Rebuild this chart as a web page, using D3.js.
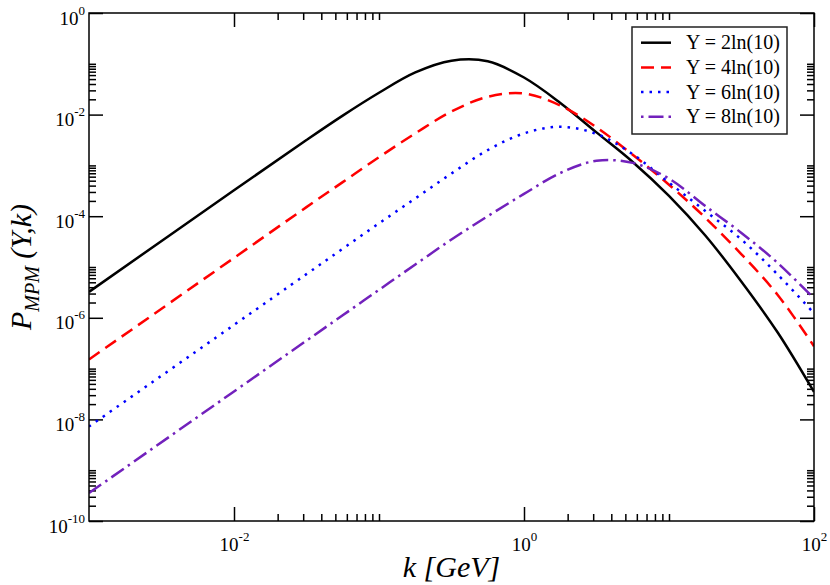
<!DOCTYPE html>
<html>
<head>
<meta charset="utf-8">
<script src="https://cdn.jsdelivr.net/npm/d3@7"></script>
<style>
  body { margin: 0; background: #fff; }
  text { font-family: "Liberation Serif", "Times New Roman", Times, serif; fill: #000; }
</style>
</head>
<body>
<svg id="chart" width="830" height="585"></svg>
<script>
// k grid (GeV), values every quarter / half decade
var kVals = [1e-3, 1e-2, 3.16e-2, 5.62e-2, 1e-1, 1.78e-1, 3.16e-1, 5.62e-1, 1, 1.78, 3.16, 5.62, 10, 17.8, 31.6, 56.2, 100];

var pY2 = [3.24e-6, 3.24e-4, 3.16e-3, 9.55e-3, 2.69e-2, 6.76e-2, 1.15e-1, 1.12e-1, 5.37e-2, 1.70e-2, 4.47e-3, 1.17e-3, 2.51e-4, 4.17e-5, 5.13e-6, 5.13e-7, 3.47e-8];
var pY4 = [1.51e-7, 1.51e-5, 1.51e-4, 4.68e-4, 1.45e-3, 4.27e-3, 1.15e-2, 2.24e-2, 2.60e-2, 1.51e-2, 5.62e-3, 1.62e-3, 4.17e-4, 9.33e-5, 1.78e-5, 2.82e-6, 2.75e-7];
var pY6 = [7.24e-9, 7.24e-7, 7.24e-6, 2.29e-5, 7.24e-5, 2.24e-4, 6.92e-4, 2.00e-3, 4.27e-3, 5.75e-3, 4.17e-3, 1.66e-3, 4.57e-4, 1.26e-4, 3.47e-5, 7.08e-6, 1.23e-6];
var pY8 = [3.55e-10, 3.55e-8, 3.55e-7, 1.12e-6, 3.55e-6, 1.12e-5, 3.47e-5, 1.0e-4, 2.75e-4, 7.08e-4, 1.23e-3, 1.12e-3, 5.50e-4, 1.58e-4, 4.68e-5, 1.20e-5, 2.40e-6];

var seriesNames = ["Y = 2ln(10)", "Y = 4ln(10)", "Y = 6ln(10)", "Y = 8ln(10)"];

// major ticks every two decades, labelled as powers of ten
var xMajor = [1e-2, 1, 1e2];
var yMajor = [1e-10, 1e-8, 1e-6, 1e-4, 1e-2, 1];

var colors = ["#000000", "#ff0000", "#0000ff", "#7221bc"];
var dashes = [null, "13,7", "2.5,6", "15,5,2.5,5"];
var legendDashes = [null, "13,7", "2.5,6", "2.5,5,15,5"];

var svg = d3.select("#chart");
var L = 89, R = 814, T = 13, B = 521;

var x = d3.scaleLog().domain([1e-3, 1e2]).range([L, R]);
var y = d3.scaleLog().domain([1e-10, 1]).range([B, T]);

// grace style minor ticks: 2..10 times each major
function minors(majors, lo, hi) {
    var out = [];
    majors.forEach(function(m) {
        for (var i = 2; i <= 10; i++) {
            var v = m * i;
            if (v > lo && v < hi) out.push(v);
        }
    });
    return out;
}
var xMinor = minors(xMajor, 1e-3, 1e2);
var yMinor = minors(yMajor, 1e-10, 1);

function expOf(d) { return Math.round(Math.log10(d)); }

function labelPow(sel, anchor) {
    sel.each(function(d) {
        var t = d3.select(this);
        t.text(null)
         .attr("font-size", 19)
         .attr("text-anchor", anchor);
        t.append("tspan").text("10");
        t.append("tspan").attr("dy", -10).attr("font-size", 13).text(expOf(d));
    });
}

// bottom
var gB = svg.append("g").attr("transform", "translate(0," + B + ")");
gB.call(d3.axisBottom(x).tickValues(xMinor).tickSizeInner(-7).tickSizeOuter(0).tickFormat(""));
gB.append("g").call(d3.axisBottom(x).tickValues(xMajor).tickSizeInner(-14).tickSizeOuter(0).tickPadding(30))
  .selectAll(".tick text").attr("y", 30).attr("dy", 0).call(labelPow, "middle");

// top
var gT = svg.append("g").attr("transform", "translate(0," + T + ")");
gT.call(d3.axisTop(x).tickValues(xMinor).tickSizeInner(-7).tickSizeOuter(0).tickFormat(""));
gT.append("g").call(d3.axisTop(x).tickValues(xMajor).tickSizeInner(-14).tickSizeOuter(0).tickFormat(""));

// left
var gL = svg.append("g").attr("transform", "translate(" + L + ",0)");
gL.call(d3.axisLeft(y).tickValues(yMinor).tickSizeInner(-7).tickSizeOuter(0).tickFormat(""));
gL.append("g").call(d3.axisLeft(y).tickValues(yMajor).tickSizeInner(-14).tickSizeOuter(0).tickPadding(4))
  .selectAll(".tick text").attr("x", -4).attr("dy", 11).call(labelPow, "end");

// right
var gR = svg.append("g").attr("transform", "translate(" + R + ",0)");
gR.call(d3.axisRight(y).tickValues(yMinor).tickSizeInner(-7).tickSizeOuter(0).tickFormat(""));
gR.append("g").call(d3.axisRight(y).tickValues(yMajor).tickSizeInner(-14).tickSizeOuter(0).tickFormat(""));

svg.selectAll(".domain").remove();
svg.selectAll(".tick line").attr("stroke", "#000").attr("stroke-width", 1.5);

svg.append("clipPath").attr("id", "clip")
   .append("rect").attr("x", L).attr("y", T).attr("width", R - L).attr("height", B - T);

var line = d3.line()
    .x(function(d) { return x(d[0]); })
    .y(function(d) { return y(d[1]); })
    .curve(d3.curveCatmullRom.alpha(0.5));

var allSeries = [pY2, pY4, pY6, pY8];
svg.append("g").attr("clip-path", "url(#clip)")
   .selectAll("path.curve")
   .data(allSeries)
   .enter()
   .append("path")
   .attr("class", "curve")
   .attr("fill", "none")
   .attr("stroke", function(d, i) { return colors[i]; })
   .attr("stroke-width", 2.5)
   .attr("stroke-dasharray", function(d, i) { return dashes[i]; })
   .attr("d", function(d) { return line(kVals.map(function(k, j) { return [k, d[j]]; })); });

// frame
svg.append("rect")
   .attr("x", L).attr("y", T).attr("width", R - L).attr("height", B - T)
   .attr("fill", "none").attr("stroke", "#000").attr("stroke-width", 1.5);

// legend
var leg = svg.append("g");
leg.append("rect")
   .attr("x", 632).attr("y", 27).attr("width", 155).attr("height", 107)
   .attr("fill", "#fff").attr("stroke", "#222").attr("stroke-width", 1.5);
var rows = leg.selectAll("g.row")
   .data(seriesNames)
   .enter()
   .append("g")
   .attr("class", "row")
   .attr("transform", function(d, i) { return "translate(0," + (42.7 + i * 24.7) + ")"; });
rows.append("line")
   .attr("x1", 641).attr("x2", 671)
   .attr("stroke", function(d, i) { return colors[i]; })
   .attr("stroke-width", 2.5)
   .attr("stroke-dasharray", function(d, i) { return legendDashes[i]; });
rows.append("text")
   .attr("x", 686).attr("dy", "0.33em")
   .attr("font-size", 20)
   .text(function(d) { return d; });

// axis titles
svg.append("text")
   .attr("x", (L + R) / 2).attr("y", 577)
   .attr("text-anchor", "middle")
   .attr("font-size", 30).attr("font-style", "italic")
   .text("k [GeV]");

var yt = svg.append("text")
   .attr("transform", "translate(31," + ((T + B) / 2) + ") rotate(-90)")
   .attr("text-anchor", "middle")
   .attr("font-size", 30).attr("font-style", "italic");
yt.append("tspan").text("P");
yt.append("tspan").attr("font-size", 20).attr("dy", 8).text("MPM");
yt.append("tspan").attr("dy", -8).text(" (Y,k)");
</script>
</body>
</html>
